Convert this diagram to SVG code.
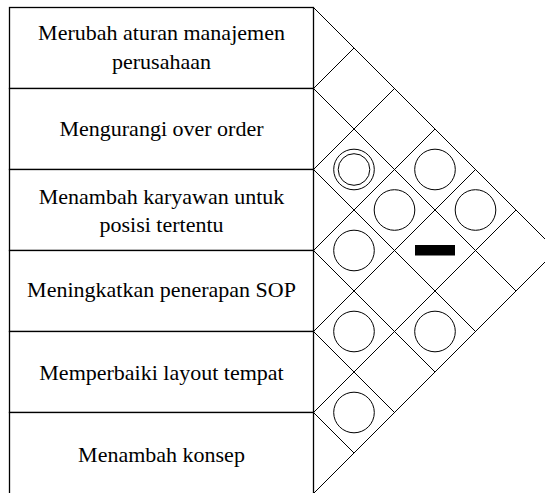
<svg xmlns="http://www.w3.org/2000/svg" width="545" height="493" viewBox="0 0 545 493">
<style>
.box{fill:#fff;stroke:#000;stroke-width:1.3}
.lbl{font-family:Liberation Serif,Tinos,Times New Roman,Times,serif;font-size:22px;fill:#000;text-anchor:middle}
.grid{fill:none;stroke:#000;stroke-width:1}
.c{fill:none;stroke:#000;stroke-width:1}
</style>
<rect x="0" y="0" width="545" height="493" fill="#fff"/>
<g id="row1"><rect class="box" x="9.5" y="7.5" width="304" height="81"/><text class="lbl" x="161.5" y="39.5">Merubah aturan manajemen</text><text class="lbl" x="161.5" y="68.5">perusahaan</text></g>
<g id="row2"><rect class="box" x="9.5" y="88.5" width="304" height="81"/><text class="lbl" x="161.5" y="135.5">Mengurangi over order</text></g>
<g id="row3"><rect class="box" x="9.5" y="169.5" width="304" height="81"/><text class="lbl" x="161.5" y="203.5">Menambah karyawan untuk</text><text class="lbl" x="161.5" y="232">posisi tertentu</text></g>
<g id="row4"><rect class="box" x="9.5" y="250.5" width="304" height="81"/><text class="lbl" x="161.5" y="296.5">Meningkatkan penerapan SOP</text></g>
<g id="row5"><rect class="box" x="9.5" y="331.5" width="304" height="81"/><text class="lbl" x="161.5" y="380">Memperbaiki layout tempat</text></g>
<g id="row6"><rect class="box" x="9.5" y="412.5" width="304" height="90"/><text class="lbl" x="161.5" y="461.5">Menambah konsep</text></g>
<g id="connectors" class="grid">
<path d="M313.5 7.5 L556.5 250.5 L313.5 493.5"/>
<path d="M313.5 88.5 L516 291 M313.5 169.5 L475.5 331.5 M313.5 250.5 L435 372 M313.5 331.5 L394.5 412.5 M313.5 412.5 L354 453"/>
<path d="M313.5 88.5 L354 48 M313.5 169.5 L394.5 88.5 M313.5 250.5 L435 129 M313.5 331.5 L475.5 169.5 M313.5 412.5 L516 210"/>
</g>
<g id="symbols">
<circle class="c" cx="354" cy="169.5" r="20.3"/>
<circle class="c" cx="354" cy="169.5" r="15.8"/>
<circle class="c" cx="435" cy="169.5" r="20.3"/>
<circle class="c" cx="394.5" cy="210" r="20.3"/>
<circle class="c" cx="475.5" cy="210" r="20.3"/>
<circle class="c" cx="354" cy="250.5" r="20.3"/>
<rect x="415" y="245" width="40" height="10.5" fill="#000"/>
<circle class="c" cx="354" cy="331.5" r="20.3"/>
<circle class="c" cx="435" cy="331.5" r="20.3"/>
<circle class="c" cx="354" cy="412.5" r="20.3"/>
</g>
</svg>
